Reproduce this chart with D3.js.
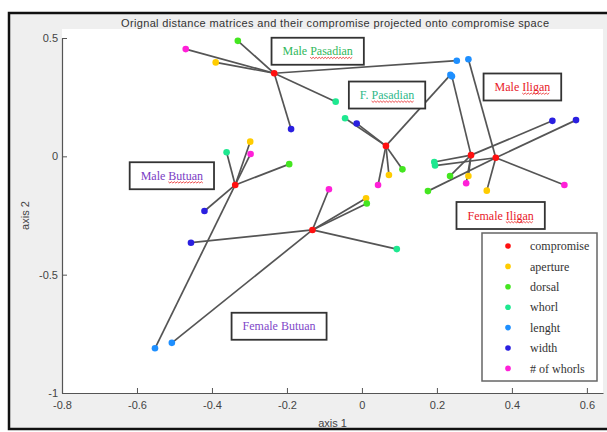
<!DOCTYPE html>
<html>
<head>
<meta charset="utf-8">
<script src="https://cdn.jsdelivr.net/npm/d3@7/dist/d3.min.js"></script>
<style>
  body { margin: 0; background: #fff; }
  .tick text { font-family: "Liberation Sans", Arial, sans-serif; font-size: 11px; fill: #444; }
  .tick line { stroke: #555; }
  .domain { stroke: #555; }
</style>
</head>
<body>
<svg width="607" height="432"></svg>
<script>
// attribute names, in legend order
var attributes = ["compromise", "aperture", "dorsal", "whorl", "lenght", "width", "# of whorls"];
var attrColors = ["#ff1010", "#ffcc00", "#44e620", "#1ee890", "#1e8fff", "#2a1fe0", "#ff20d8"];

var groups = ["Male Pasadian", "F. Pasadian", "Male Butuan", "Female Butuan", "Female Iligan", "Male Iligan"];

// axis 1 / axis 2 coordinates, one row per group, columns follow `attributes`
var axis1 = [
  [-0.234, -0.390, -0.331, -0.070, 0.253, -0.189, -0.470],
  [0.064, 0.072, 0.108, -0.045, 0.236, -0.014, 0.043],
  [-0.338, -0.298, -0.194, -0.361, -0.552, -0.420, -0.297],
  [-0.132, 0.011, 0.013, 0.093, -0.507, -0.456, -0.088],
  [0.291, 0.284, 0.235, 0.193, 0.240, 0.508, 0.278],
  [0.357, 0.333, 0.176, 0.195, 0.284, 0.571, 0.540]
];
var axis2 = [
  [0.351, 0.397, 0.488, 0.231, 0.404, 0.115, 0.453],
  [0.044, -0.079, -0.055, 0.161, 0.344, 0.139, -0.121],
  [-0.121, 0.062, -0.033, 0.017, -0.811, -0.231, 0.010],
  [-0.311, -0.177, -0.199, -0.392, -0.788, -0.365, -0.139],
  [0.005, -0.083, -0.083, -0.024, 0.338, 0.150, -0.114],
  [-0.006, -0.145, -0.147, -0.039, 0.410, 0.153, -0.121]
];

// text boxes naming each group (centre, in axis units)
var labelX = [-0.118, 0.067, -0.507, -0.221, 0.370, 0.428];
var labelY = [0.444, 0.259, -0.082, -0.718, -0.250, 0.293];
var labelColors = ["#2fb85a", "#2fb88a", "#7a3cc4", "#8048c8", "#e8202a", "#e8202a"];

var xTicks = [-0.8, -0.6, -0.4, -0.2, 0, 0.2, 0.4, 0.6];
var yTicks = [-1, -0.5, 0, 0.5];

var svg = d3.select("svg");

// figure background + frame
svg.append("rect")
  .attr("x", 9).attr("y", 13)
  .attr("width", 610).attr("height", 416)
  .attr("fill", "#efefef")
  .attr("stroke", "#111")
  .attr("stroke-width", 2.5);

var x = d3.scaleLinear().domain([-0.8, 0.643]).range([62, 603]);
var y = d3.scaleLinear().domain([-1, 0.5]).range([393, 38]);

// white axes area
svg.append("rect")
  .attr("x", x(-0.8)).attr("y", 29)
  .attr("width", x(0.643) - x(-0.8))
  .attr("height", y(-1) - 29)
  .attr("fill", "#fff");

svg.append("text")
  .attr("x", 335).attr("y", 27)
  .attr("text-anchor", "middle")
  .style("font-family", "'Liberation Sans', Arial, sans-serif")
  .style("font-size", "11px")
  .attr("fill", "#333")
  .attr("textLength", 428)
  .text("Orignal distance matrices and their compromise projected onto compromise space");

var fmt = function(d) { return String(d); };

svg.append("g")
  .attr("transform", "translate(0," + y(-1) + ")")
  .call(d3.axisBottom(x).tickValues(xTicks).tickFormat(fmt)
    .tickSizeInner(-5).tickSizeOuter(0).tickPadding(8));

svg.append("g")
  .attr("transform", "translate(" + x(-0.8) + ",0)")
  .call(d3.axisLeft(y).tickValues(yTicks).tickFormat(fmt)
    .tickSizeInner(-5).tickSizeOuter(0).tickPadding(4));

svg.selectAll(".domain").attr("stroke-width", 1.2);

svg.append("text")
  .attr("x", (x(-0.8) + x(0.643)) / 2).attr("y", 427)
  .attr("text-anchor", "middle")
  .style("font-family", "'Liberation Sans', Arial, sans-serif")
  .style("font-size", "11px")
  .attr("fill", "#444")
  .text("axis 1");

svg.append("text")
  .attr("transform", "translate(29," + ((y(0.5) + y(-1)) / 2) + ") rotate(-90)")
  .attr("text-anchor", "middle")
  .style("font-family", "'Liberation Sans', Arial, sans-serif")
  .style("font-size", "11px")
  .attr("fill", "#444")
  .text("axis 2");

// build points
var pts = [];
groups.forEach(function(g, gi) {
  attributes.forEach(function(a, ai) {
    pts.push({ group: gi, attr: ai, x: axis1[gi][ai], y: axis2[gi][ai] });
  });
});
var links = pts.filter(function(d) { return d.attr > 0; });

svg.append("g").selectAll("line")
  .data(links)
  .enter().append("line")
  .attr("x1", function(d) { return x(axis1[d.group][0]); })
  .attr("y1", function(d) { return y(axis2[d.group][0]); })
  .attr("x2", function(d) { return x(d.x); })
  .attr("y2", function(d) { return y(d.y); })
  .attr("stroke", "#555")
  .attr("stroke-width", 1.7);

// attribute dots first, compromise on top
var ordered = links.concat(pts.filter(function(d) { return d.attr === 0; }));
svg.append("g").selectAll("circle")
  .data(ordered)
  .enter().append("circle")
  .attr("cx", function(d) { return x(d.x); })
  .attr("cy", function(d) { return y(d.y); })
  .attr("r", 3.3)
  .attr("fill", function(d) { return attrColors[d.attr]; });

// group name boxes
var lab = svg.append("g").selectAll("g")
  .data(groups)
  .enter().append("g")
  .attr("transform", function(d, i) { return "translate(" + x(labelX[i]) + "," + y(labelY[i]) + ")"; });

var labText = lab.append("text")
  .attr("text-anchor", "middle")
  .attr("dy", "0.35em")
  .style("font-family", "'Liberation Serif', 'Times New Roman', serif")
  .style("font-size", "12px")
  .attr("fill", function(d, i) { return labelColors[i]; });

labText.each(function(d) {
  var words = d.split(" ");
  var t = d3.select(this);
  t.append("tspan").text(words[0] + " ");
  t.append("tspan").text(words[1]);
});

lab.insert("rect", "text")
  .each(function() {
    var bb = this.parentNode.querySelector("text").getBBox();
    d3.select(this)
      .attr("x", bb.x - 11).attr("y", -13.5)
      .attr("width", bb.width + 22).attr("height", 27);
  })
  .attr("fill", "#fff")
  .attr("stroke", "#333")
  .attr("stroke-width", 1.8);

// red spell-check squiggle under the place name
lab.filter(function(d) { return d !== "Female Butuan"; })
  .append("path")
  .attr("d", function() {
    var t = this.parentNode.querySelector("text");
    var spans = t.querySelectorAll("tspan");
    var x0 = t.getBBox().x + spans[0].getComputedTextLength();
    var x1 = x0 + spans[1].getComputedTextLength();
    var p = "M" + x0 + ",6";
    for (var xx = x0 + 1.5, k = 1; xx <= x1; xx += 1.5, k++) {
      p += "L" + xx + "," + (k % 2 ? 7.3 : 6);
    }
    return p;
  })
  .attr("fill", "none")
  .attr("stroke", "#e82020")
  .attr("stroke-width", 0.8);

// legend
var leg = svg.append("g");
leg.append("rect")
  .attr("x", 482).attr("y", 233)
  .attr("width", 115).attr("height", 148)
  .attr("fill", "#fff")
  .attr("stroke", "#666")
  .attr("stroke-width", 1.5);

var row = leg.selectAll("g.row")
  .data(attributes)
  .enter().append("g")
  .attr("class", "row")
  .attr("transform", function(d, i) { return "translate(0," + (246 + i * 20.4) + ")"; });

row.append("circle")
  .attr("cx", 508).attr("cy", 0).attr("r", 2.8)
  .attr("fill", function(d, i) { return attrColors[i]; });

row.append("text")
  .attr("x", 530).attr("dy", "0.35em")
  .style("font-family", "'Liberation Serif', 'Times New Roman', serif")
  .style("font-size", "12px")
  .attr("fill", "#333")
  .text(function(d) { return d; });
</script>
</body>
</html>
